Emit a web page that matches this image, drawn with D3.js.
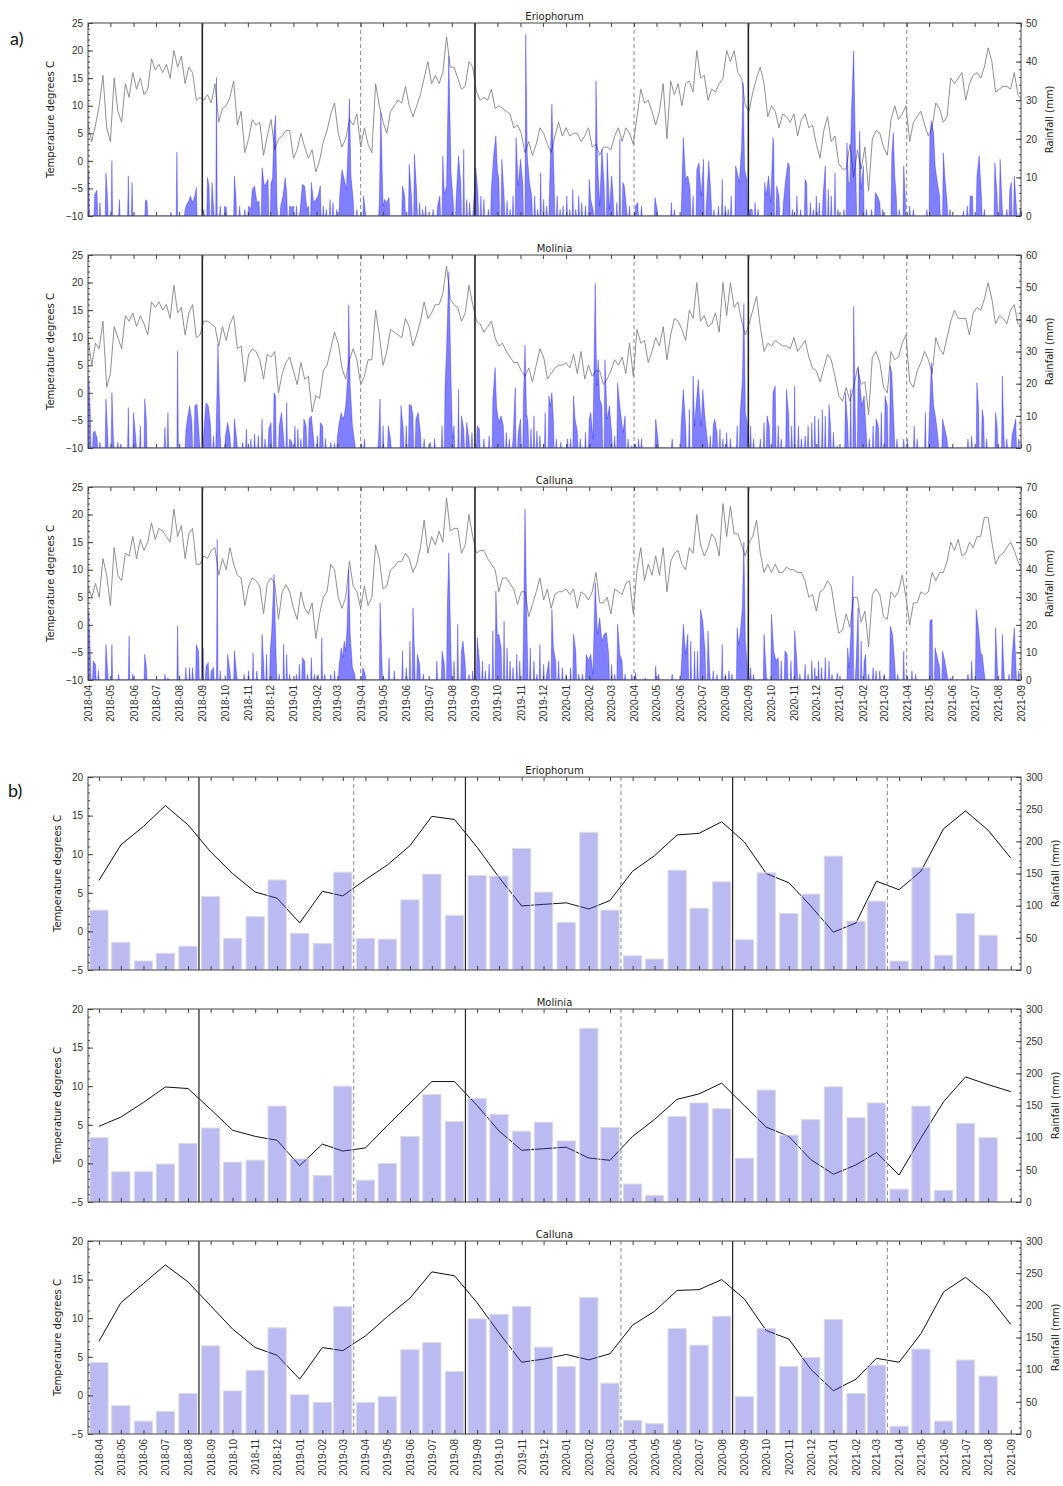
<!DOCTYPE html>
<html>
<head>
<meta charset="utf-8">
<script src="https://cdn.jsdelivr.net/npm/d3@7"></script>
<style>
body { margin: 0; background: #fff; }
</style>
</head>
<body>
<script>
// ---- daily data (panel a) ----
var dailyStart = "2018-04-01", dailyEnd = "2021-09-01", tempStepDays = 5;
var siteNames = ["Eriophorum", "Molinia", "Calluna"];
var rainMaxA = [50, 60, 70];

var eriophorumDailyTemp = [6.7,3.5,6.5,10,15.5,6,3.5,15,9,7,14,11.5,16,13,15,12,13,18.5,16.5,17.5,16,17.5,15,20,17,19,14,17,16,11,11.5,
 11,12,10.5,14,7,9.5,10,11.5,14.5,6.5,9,1.5,4,7.5,6.5,7,1,4.5,7.5,2,4,4.5,5.5,5.5,0.5,2,5,2.5,0.5,2,-2,0,3.5,5.5,8.5,10.5,5,2.5,4,7.5,6.5,8.5,
 2.5,6,3,1.5,14,10,7,5,9,10,11,10.5,13.5,10,8,10,12,15,18,14,15.5,14,16,22.5,17,17,15,13,13.5,18,17,12.5,11,11.5,11,13,9.5,10,9.5,9,
 8.5,6,6.5,5,1.5,3.5,1,3,6,5,3,1.5,4.5,7,4.5,6,4.5,5,5,3.5,4.5,6,2.5,3,1,2.5,2.5,2,4.5,6,3.5,6,5,3,8,13,10.5,11,9,6.5,
 9,14,4,14.5,12,14,10,14,14.5,12.5,20,15,15.5,11,
 13,12.5,14,15,20,18,20,16,15,10,9,12.5,15,17,14,8,10,9,6,8.5,8,7,8.5,4.5,7.5,8.5,6,6.5,3,0.5,5.5,8,3.5,4.5,-0.5,-1.5,-1.5,3,-3,2,
 -1.5,2.5,-5.5,4,5.5,5,2.5,1,7.5,10,7.5,8.5,10,3.5,7,8,9,6.5,4.5,6,10.5,9.5,7,8,15,14,15,16,11,14,15.5,16,15,17,20.5,18,12.5,13,13.5,13.5,13,16,12,11];

var moliniaDailyTemp = [10,5,9,8,13,1,3.5,12,10,8,14,13,14.5,12,14,12.5,10.5,16.5,15.5,16.5,15,16,13.5,19.5,14.5,15.5,10.5,14.5,16,10,
 10.5,13,13,12.5,12,8.5,12,9.5,12.5,14,8,8.5,2,7,8,7.5,6,2.5,7,6.5,7.5,0,3.5,5.5,6.5,4,1.5,5.5,2.5,3,
 -3.5,-0.5,-1,4,5,8,11,9,4.5,2.5,6,8,6,1.5,3,6,6,15,10.5,5,7.5,11.5,11,10.5,10,13.5,12,8.5,10.5,13,
 16.5,13.5,14.5,16,16,18,23,17,16,15.5,13,14.5,19.5,16,13,12.5,11,12,13,10,8.5,9,7.5,6.5,5.5,5.5,4,3,4.5,2,5,
 8,6.5,2.5,3.5,4.5,5,5,5.5,4.5,7,3.5,7.5,2.5,5,3,4,4,1.5,2.5,4,6,5,6.5,3.5,9,3,11.5,9,9.5,5.5,
 7.5,10,8.5,12,6,10.5,13.5,13,11.5,9.5,15,13.5,20,13,14,12,12.5,14.5,11,20,14,20,15.5,16.5,13,10.5,12.5,15,17.5,12,
 7.5,9,8.5,9.5,9,8.5,8.5,8,10,7.5,8.5,9.5,6.5,4.5,4,2,4.5,7,6,3,-0.5,-1.5,1,-1.5,1,4.5,1.5,2,-4,6.5,
 7.5,5.5,1,0,7.5,6,6.5,9,10.5,2,1,4,5.5,7.5,6,3.5,10,8,7,10,13,15,13.5,13.5,13.5,10.5,14.5,15.5,15,17,20,17,12.5,14,13.5,12.5,15,16,12.5,12];

var callunaDailyTemp = [7,5,7.5,5,12,9,3.5,14,9,8,13,12.5,16,12,15.5,13.5,15,18.5,15.5,17.5,17,16,15,21,16,18,12,16.5,17.5,11,
 11,12.5,12,13.5,14,9,12,10,14,11,9,8.5,3.5,7,8.5,8,7,2,7.5,8.5,7.5,1,6,7.3,6,3,1,6,3,2,
 4,-2.5,2,5,6,11,10,5,3,5,11.5,7,6,3,7,3.5,5,14.5,12,6.5,7,10,10.5,11.5,11.5,13,12,9.5,11,14,
 19,13,16,14.5,17,15,23,17,17.5,17.5,13,14.5,20,16,13,13.5,13.5,12,11,10,6,8.5,8.5,7.5,6.5,3.7,6,6,1.5,3.7,6,
 8.5,4.5,6.5,3,5.5,6,6,6.5,5.5,6.5,3,6,5.5,4.5,6,9.5,4,4,5,2,6.5,6,5.5,7.5,8,2,10,14,8,11,
 9,12.5,9,14,6,11.5,13,13.5,11,10,14,13,20,14.5,12.5,14,16.5,15.5,12.5,22,16,21.5,16.5,16.5,14.5,12.5,15,16,19,13,
 9.5,11,9.5,11,9.5,9.5,10.5,10,10,9.5,9.5,8,5,5.5,2.5,6,6.5,8,7,2.5,-1.5,-1,2,-0.5,5,5,0.5,2.5,-4,5.5,
 6.5,5.5,1.5,1,6,5,6,9,5,0,4,4,6,5.5,6,9.5,8,9.5,9.5,11.5,15,13.5,15.5,12.5,13,15,14,16,16,19.5,19.5,15,11,12.5,13,14,15,13.5,11.5,10];

// rain events: [days since dailyStart, mm]
var eriophorumDailyRain = [[1,12],[9,5.6],[12,6.7],[16,3.5],[24,11.2],[26,5.2],[32,14.3],[42,4.3],[54,10.4],[59,8.7],[77,4.2],[79,3.9],[111,1],[119,16.6],
 [130,1.7],[132,3],[135,3.9],[137,5.2],[140,3.5],[143,5.2],[145,7.4],[155,1.7],[160,10],[162,7.8],[166,8.7],[168,2.6],[172,35.9],[177,2.6],[183,2.6],[185,2.2],
 [196,10.4],[198,5.2],[203,2.6],[210,1.7],[215,2.6],[218,1.7],[220,6.9],[223,7.8],[226,3.5],[229,3.9],[233,12.5],[236,7.8],[239,8.7],[241,9.5],[245,8.7],[247,9.5],
 [249,21.6],[251,26],[253,2.6],[258,2.6],[261,5.2],[264,10],[266,6.1],[270,2.6],[273,2.2],[275,2.6],[279,2.6],[284,1.7],[287,8.2],[290,7.8],[293,1.7],[295,2.6],
 [299,8.7],[302,3.5],[305,4.3],[308,5.2],[311,7.8],[315,2.6],[319,1.7],[324,4.3],[328,3.5],[333,1.7],[337,5.2],[340,12],[342,10.4],[344,8.7],[346,6.9],[348,17.3],
 [350,30.3],[352,10.4],[355,4.3],[360,1.7],[369,5.2],[371,1.7],[390,3.5],[392,26.8],[395,2.6],[397,4.3],[400,3.5],[403,4.8],[421,7.8],[424,5.2],[430,13.4],
 [433,5.2],[437,16],[440,6.1],[444,3.5],[448,1.7],[452,2.6],[462,1.7],[468,2.6],[471,5.2],[475,15.6],[477,5.6],[480,7.8],[483,41.5],[486,11.2],[489,3.5],[493,5.2],
 [496,15.6],[499,8.7],[503,17.3],[507,4.3],[511,3.5],[516,2.6],[519,12.5],[522,6.1],[526,5.2],[530,4.3],[536,1.7],[540,6.9],[543,15.6],[546,20.8],[548,12],
 [550,9.5],[554,14.7],[557,5.2],[561,3.9],[565,1.7],[569,5.2],[573,20.3],[576,7.8],[579,14.7],[582,8.7],[586,47.1],[588,15.6],[591,8.7],[594,5.2],[598,5.2],
 [602,1.7],[606,11.2],[610,4.3],[614,2.6],[618,7.8],[621,29],[624,8.7],[628,5.2],[632,1.7],[636,2.6],[641,5.2],[645,1.7],[649,6.9],[653,1.7],[657,5.2],[661,3.5],
 [666,2.6],[671,9.5],[673,4.3],[676,1.7],[680,35],[682,14.7],[685,2.6],[688,17.3],[691,7.8],[695,16.4],[698,1.7],[701,10.4],[703,5.2],[708,3.5],[712,19.9],
 [716,8.7],[718,7.8],[721,1.7],[725,2.6],[733,2.6],[736,3.5],[741,2.6],[759,4.8],[762,1.7],[781,3.5],[785,1.7],[795,6.9],[797,20.3],[800,9.5],[803,10.4],
 [806,6.9],[810,5.2],[815,12],[818,13.8],[821,5.2],[824,14.7],[828,3.5],[831,14.3],[834,5.2],[838,1.7],[844,2.6],[849,9.5],[853,2.6],[857,1.7],[861,5.2],
 [867,13],[870,10.4],[872,8.7],[875,18.2],[877,34.6],[879,12],[882,9.5],[886,1.7],[889,1.7],[893,3.5],[897,1.7],[906,8.7],[908,5.2],[911,10.4],[914,3.5],
 [917,20.3],[918,18.2],[922,7.8],[925,5.2],[931,3.5],[934,9.5],[937,13.8],[939,13],[943,1.7],[949,5.2],[954,1.7],[960,9.5],[962,8.7],[967,3.5],[971,1.7],
 [975,5.2],[979,3.5],[984,5.2],[987,13],[991,6.9],[995,5.2],[1000,11.2],[1004,1.7],[1012,1.7],[1016,19],[1018,8.7],[1020,8.7],[1022,26.8],[1025,42.8],
 [1028,10.4],[1033,22],[1035,6.9],[1038,13],[1042,1.7],[1049,1.7],[1054,6.1],[1057,5.2],[1060,3.5],[1064,1.7],[1076,15.6],[1078,21.6],[1080,10.4],[1082,5.2],
 [1086,1.7],[1092,13],[1094,5.2],[1100,2.6],[1105,1.7],[1123,1.7],[1127,20.8],[1129,24.7],[1132,21.6],[1134,13],[1137,8.7],[1140,5.2],[1145,16.4],[1147,10.4],
 [1150,3.5],[1154,1.7],[1172,1.3],[1177,2.6],[1181,5.2],[1184,5.2],[1190,10.4],[1193,15.6],[1196,5.2],[1200,1.7],[1214,13.8],[1217,5.2],[1221,14.7],[1224,1.7],
 [1230,1.7],[1234,6.9],[1236,8.7],[1240,10.4],[1243,1.7],[1248,1.7]];

var moliniaDailyRain = [[1,22],[3,12],[7,4.8],[9,5.3],[12,3.3],[16,1.8],[24,15.2],[26,5.9],[32,17.2],[34,2.8],[40,1.8],[44,1.3],[54,12.6],[61,11],[64,2.8],
 [70,6.9],[76,15.2],[78,9],[103,6.4],[107,11],[120,30.1],[131,5.3],[133,9],[136,13.1],[139,8.5],[143,13.1],[146,13.6],[149,2.8],[155,4.8],[158,14.1],[161,13.1],
 [164,7.4],[168,3.8],[172,10],[174,32.2],[177,3.8],[184,3.8],[187,7.9],[190,3.8],[196,9],[199,2.8],[207,1.8],[212,5.9],[218,2.8],[223,4.3],[228,3.8],[233,9],
 [237,2.8],[242,5.9],[245,7.9],[249,17.2],[251,16.2],[256,6.9],[259,11],[262,2.8],[266,14.1],[270,2.8],[273,1.8],[277,6.9],[281,5.9],[285,2.8],[289,9],[292,6.9],
 [296,9],[299,10],[302,2.8],[307,3.8],[311,7.9],[314,6.9],[318,2.8],[325,1.8],[330,1.5],[334,3.8],[336,7.4],[339,11],[341,9],[343,10],[345,13.1],[348,23.4],
 [349,44.5],[351,19.3],[354,6.9],[357,1.8],[366,1.3],[370,2.8],[389,2.8],[391,15.2],[395,6.9],[402,6.9],[405,2.8],[419,13.1],[422,5.9],[426,6.9],[430,13.6],
 [433,13.1],[435,10],[439,9],[442,11],[445,4.8],[450,2.8],[458,1.8],[464,2.8],[474,6.9],[478,19.3],[480,30.6],[483,54.8],[486,21.3],[488,2.8],[490,6.9],
 [496,18.2],[500,10],[503,5.9],[507,7.9],[510,2.8],[514,4.8],[521,6.9],[524,5.9],[530,2.8],[537,3.8],[542,15.2],[545,25],[547,12.6],[550,7.9],[553,10],
 [556,6.9],[560,4.8],[564,2.8],[569,2.8],[572,18.8],[576,4.8],[579,9],[583,16.2],[585,32],[587,11],[589,7.9],[593,5.9],[597,10],[601,5.3],[605,3.8],[612,11],
 [617,16.2],[619,13.1],[621,17.2],[623,9],[627,2.8],[633,1.8],[642,2.8],[646,2.8],[650,16.2],[652,9],[655,5.3],[659,2.8],[666,4.8],[671,9],[673,11],[676,2.8],
 [679,51.2],[681,19.3],[683,27.5],[685,15.2],[688,13.1],[692,27.5],[695,9],[698,13.1],[701,4.8],[705,3.8],[709,20.3],[711,15.2],[714,9],[716,4.8],[719,10],
 [723,2.8],[728,0.7],[733,1.3],[737,2.8],[741,2.8],[760,9],[763,2.8],[782,2.8],[794,6.9],[797,18.2],[800,6.9],[805,12],[810,22.4],[812,6.9],[814,13.1],
 [817,21.3],[819,14.1],[821,6.9],[823,18.2],[826,9],[829,2.8],[833,3.8],[837,6.9],[839,9],[842,4.8],[846,5.9],[850,2.8],[855,4.8],[860,2.8],[869,6.9],[873,10],
 [876,21.3],[878,45],[880,11],[883,6.9],[887,6.9],[891,2.8],[900,2.8],[905,7.9],[909,10],[912,6.9],[917,17.2],[920,19.3],[924,6.9],[928,2.8],[935,18.2],
 [938,10],[942,6.9],[946,19.3],[951,6.9],[955,2.8],[960,3.8],[964,6.9],[969,7.9],[973,10],[978,9],[983,12],[987,10],[992,13.6],[994,6.9],[998,4.8],[1003,0.7],
 [1014,17.2],[1017,6.9],[1021,18.2],[1025,44],[1027,13.1],[1031,25.5],[1034,18.2],[1036,13.1],[1039,16.2],[1042,3.8],[1046,2.8],[1051,6.9],[1055,9],[1058,6.9],
 [1062,11],[1067,16.2],[1070,13.1],[1074,25.5],[1076,23.4],[1079,6.9],[1083,2.8],[1092,2.8],[1097,2.8],[1106,6.9],[1110,2.8],[1121,11],[1126,6.9],[1129,26.5],
 [1132,13.1],[1135,9],[1138,2.8],[1144,9],[1147,5.9],[1150,2.8],[1178,2.8],[1183,3.8],[1190,20.3],[1192,13.1],[1197,12],[1199,9],[1203,2.8],[1215,11],[1217,6.9],
 [1224,22.4],[1226,4.8],[1230,2.8],[1237,3.8],[1240,6.9],[1242,9],[1246,2.8]];

var callunaDailyRain = [[1,25],[3,10.5],[7,6.9],[10,5.7],[14,3.3],[24,12.9],[26,4.5],[32,12.9],[41,2.1],[55,16],[60,2.1],[76,9.3],[78,5.1],[103,2.1],[107,0.8],
 [120,19.6],[131,4.5],[136,4.5],[140,4.5],[145,12.9],[148,10.5],[154,11.7],[158,5],[161,6.3],[165,3.3],[168,4.5],[173,51],[177,3.3],[187,9.3],[190,3.3],[196,10.5],
 [199,2.1],[209,2.1],[215,3.3],[221,9.9],[226,3.3],[233,16.6],[235,6.9],[239,9.3],[244,10.5],[246,17.8],[249,38.3],[252,6.9],[256,2.1],[262,12.9],[266,9.3],
 [270,2.1],[279,2.1],[283,5.7],[287,8.1],[290,6.9],[294,2.1],[299,8.1],[303,2.1],[308,2.1],[313,15.4],[317,2.1],[325,2.1],[330,3.3],[336,4.5],[339,11.7],
 [341,8.1],[343,14.1],[345,10.5],[347,20],[349,40.1],[351,16.6],[354,4.5],[357,2.1],[368,4.5],[371,2.1],[391,28],[394,2.1],[403,8.1],[410,3.3],[421,10.5],
 [426,4.5],[431,14.1],[435,26.2],[437,10.5],[441,9.3],[444,5.7],[449,2.1],[467,6.9],[474,10.5],[477,5.7],[481,26.2],[483,46.2],[486,9.3],[490,6.9],[495,20.2],
 [500,10.5],[502,14.1],[505,5.7],[510,2.1],[515,3.3],[521,15.4],[524,6.9],[528,6.9],[532,3.3],[537,5.7],[542,17.8],[546,32.3],[548,16],[550,16.6],[553,11.7],
 [557,21.4],[561,11.7],[565,6.9],[569,4.5],[574,9.3],[578,6.9],[583,17.8],[585,62],[588,14.1],[592,11.7],[597,6.9],[601,2.1],[605,12.9],[610,5.7],[614,2.1],
 [617,6.9],[621,25.6],[623,11.7],[626,6.9],[630,6.9],[635,4.5],[640,2.1],[646,4.5],[650,16.6],[653,10.5],[657,2.1],[662,2.1],[667,9.3],[670,6.9],[673,9.3],
 [676,2.1],[679,35.3],[682,16.6],[685,22.6],[688,14.1],[691,16.6],[694,17.2],[697,9.3],[701,5.7],[705,2.1],[709,20.2],[712,9.3],[715,6.9],[719,2.1],[728,2.1],
 [733,2.7],[746,0.8],[760,5.1],[764,2.1],[782,2.1],[794,3.3],[797,20.2],[800,9.3],[803,16.6],[807,14.1],[812,10.5],[816,10.5],[820,25.6],[823,21.4],[826,10.5],
 [830,17.8],[832,4.5],[837,3.3],[842,2.1],[849,12.9],[853,2.1],[858,3.3],[862,2.1],[869,19],[871,12.9],[873,16.6],[876,26.2],[878,50],[880,14.1],[883,3.3],
 [887,4.5],[891,2.1],[905,16.6],[908,2.1],[915,23.8],[918,10.5],[921,6.9],[924,8.1],[928,6.9],[933,10.5],[936,9.3],[941,6.9],[946,17.8],[949,6.9],[953,2.1],
 [960,5.7],[964,2.1],[969,6.9],[973,4.5],[978,6.9],[982,4.5],[987,8.1],[992,6.9],[996,2.1],[1003,2.7],[1017,11.7],[1019,4.5],[1022,20.8],[1024,37.7],[1028,4.5],
 [1031,26.2],[1035,14.1],[1039,6.9],[1041,9.3],[1045,2.1],[1051,4.5],[1055,3.3],[1060,3.3],[1066,2.1],[1074,19.6],[1077,16.6],[1080,5.7],[1084,2.1],[1092,10.5],
 [1096,2.1],[1103,3.3],[1108,2.1],[1127,21.4],[1130,22],[1134,11.7],[1137,8.1],[1140,4.5],[1144,10.5],[1147,6.9],[1150,2.1],[1155,0.8],[1178,2.1],[1183,6.9],
 [1189,25.6],[1192,19],[1195,9.3],[1197,9.3],[1200,2.1],[1215,19],[1217,6.9],[1224,16.6],[1226,4.5],[1233,2.1],[1237,8.1],[1240,19],[1242,6.9],[1246,3.3]];

// ---- monthly data (panel b), first month 2018-04 ----
var monthStart = "2018-04-01";
var eriophorumMonthTemp = [6.6,11.2,13.6,16.3,13.8,10.3,7.5,5.1,4.3,1.1,5.2,4.6,6.7,8.6,11.1,14.9,14.5,10.9,7.0,3.3,3.5,3.7,2.9,4.0,7.8,9.8,12.5,12.7,14.2,11.6,7.5,6.3,3.3,-0.1,1.1,6.5,5.4,7.8,13.3,15.6,13.1,9.5];
var eriophorumMonthRain = [93,43,14,26,37,114,49,83,140,57,41,152,49,48,109,149,85,147,146,189,121,74,214,93,22,17,155,96,137,47,151,88,118,177,76,107,14,159,23,88,54];
var moliniaMonthTemp = [4.8,6.0,7.9,9.9,9.7,7.0,4.3,3.5,3.0,-0.3,2.5,1.6,2.0,4.9,7.8,10.6,10.6,7.5,4.2,1.7,1.9,2.1,0.7,0.4,3.5,5.7,8.3,9.0,10.4,7.5,4.7,3.5,0.5,-1.4,-0.2,1.4,-1.5,3.3,8.0,11.2,10.2,9.3];
var moliniaMonthRain = [100,47,47,59,91,115,62,65,149,67,41,180,34,60,102,167,125,161,136,110,124,95,270,116,28,10,133,154,145,68,174,104,128,179,131,154,20,149,18,122,100];
var callunaMonthTemp = [7.0,12.0,14.5,16.9,14.7,11.6,8.6,6.2,5.2,2.1,6.2,5.8,7.7,10.2,12.6,16.0,15.5,12.0,8.1,4.3,4.7,5.3,4.6,5.4,9.1,10.9,13.6,13.7,15.0,12.5,8.4,7.3,3.4,0.6,2.1,4.8,4.3,8.0,13.4,15.3,12.9,9.2];
var callunaMonthRain = [111,44,20,35,63,137,67,99,165,61,49,198,49,58,131,142,97,179,186,198,135,105,212,79,21,16,164,138,183,58,164,105,119,178,63,107,12,132,20,115,90];

// season boundaries
var solidLinesA = ["2018-09-01","2019-09-01","2020-09-01"];
var dashedLinesA = ["2019-04-01","2020-04-01","2021-04-01"];
var solidLinesB = ["2018-08-16","2019-08-16","2020-08-16"];
var dashedLinesB = ["2019-03-16","2020-03-16","2021-03-16"];

var parse = d3.utcParse("%Y-%m-%d");
var svg = d3.select("body").append("svg")
            .attr("width", 1063)
            .attr("height", 1486)
            .style("font-family", "'DejaVu Sans', sans-serif");

var L = 88, R = 1021, PH = 193;
var topsA = [23, 255, 487], topsB = [777, 1009, 1241];

var t0 = parse(dailyStart), t1 = parse(dailyEnd);
var xA = d3.scaleUtc().domain([t0, t1]).range([L, R]);
var xB = d3.scaleUtc().domain([parse("2018-03-17"), parse("2021-09-15")]).range([L, R]);
var monthTicks = d3.utcMonth.range(t0, d3.utcDay.offset(t1, 1));

function styleAxis(sel) {
    sel.select(".domain").remove();
    sel.selectAll(".tick line").attr("stroke", "#444");
    sel.selectAll(".tick text").attr("fill", "#333").style("font-size", "10px");
}

function drawFrame(g, top, x, yT, yR, tempTicks, rainTicks, rainMinor, title, lx, rx, showDates) {
    var bottom = top + PH;
    var td = yT.domain();
    // minor ticks
    g.append("g").attr("transform", "translate(" + L + ",0)")
        .call(d3.axisLeft(yT).tickValues(d3.range(td[0], td[1] + 0.1, 1)).tickSize(-2).tickFormat(""))
        .call(styleAxis);
    g.append("g").attr("transform", "translate(" + R + ",0)")
        .call(d3.axisRight(yR).tickValues(d3.range(0, yR.domain()[1] + 0.1, rainMinor)).tickSize(-2).tickFormat(""))
        .call(styleAxis);
    // major ticks
    g.append("g").attr("transform", "translate(" + L + ",0)")
        .call(d3.axisLeft(yT).tickValues(tempTicks).tickSize(-5).tickPadding(5))
        .call(styleAxis);
    g.append("g").attr("transform", "translate(" + R + ",0)")
        .call(d3.axisRight(yR).tickValues(rainTicks).tickSize(-5).tickPadding(5))
        .call(styleAxis);
    g.append("g").attr("transform", "translate(0," + top + ")")
        .call(d3.axisTop(x).tickValues(monthTicks).tickSize(-4).tickFormat(""))
        .call(styleAxis);
    var xb = g.append("g").attr("transform", "translate(0," + bottom + ")")
        .call(d3.axisBottom(x).tickValues(monthTicks).tickSize(-4)
              .tickFormat(showDates ? d3.utcFormat("%Y-%m") : ""))
        .call(styleAxis);
    if (showDates) {
        xb.selectAll(".tick text")
            .attr("transform", "rotate(-90)")
            .attr("x", -5).attr("y", 0).attr("dy", "0.35em")
            .style("text-anchor", "end");
    }
    g.append("rect").attr("x", L).attr("y", top).attr("width", R - L).attr("height", PH)
        .attr("fill", "none").attr("stroke", "#444").attr("stroke-width", 1);

    g.append("text").attr("x", (L + R) / 2).attr("y", top - 3)
        .attr("text-anchor", "middle").style("font-size", "10px").attr("fill", "#222")
        .text(title);
    g.append("text").attr("transform", "translate(" + lx + "," + (top + PH / 2) + ")rotate(-90)")
        .attr("text-anchor", "middle").attr("dy", "0.35em").style("font-size", "10px").attr("fill", "#222")
        .text("Temperature degrees C");
    g.append("text").attr("transform", "translate(" + rx + "," + (top + PH / 2) + ")rotate(-90)")
        .attr("text-anchor", "middle").attr("dy", "0.35em").style("font-size", "10px").attr("fill", "#222")
        .text("Rainfall (mm)");
}

function seasonLines(plot, x, top, solid, dashed, solidWidth) {
    plot.selectAll(null).data(solid).enter().append("line")
        .attr("x1", function(d) { return x(parse(d)); })
        .attr("x2", function(d) { return x(parse(d)); })
        .attr("y1", top).attr("y2", top + PH)
        .attr("stroke", "#222").attr("stroke-width", solidWidth);
    plot.selectAll(null).data(dashed).enter().append("line")
        .attr("x1", function(d) { return x(parse(d)); })
        .attr("x2", function(d) { return x(parse(d)); })
        .attr("y1", top).attr("y2", top + PH)
        .attr("stroke", "#888").attr("stroke-width", 1).attr("stroke-dasharray", "4,3");
}

// rain outline: wet spells joined, dry days between separate spells set to 0
function rainPoints(events) {
    var pts = [];
    events.forEach(function(e, j) {
        var prev = events[j - 1], next = events[j + 1];
        if (!prev || e[0] - prev[0] > 3) pts.push([e[0] - 1, 0]);
        pts.push(e);
        if (!next || next[0] - e[0] > 3) pts.push([e[0] + 1, 0]);
    });
    return pts;
}

// Panel a: daily temperature and rainfall
function drawDaily(i, temps, rain) {
    var top = topsA[i], bottom = top + PH;
    var yT = d3.scaleLinear().domain([-10, 25]).range([bottom, top]);
    var yR = d3.scaleLinear().domain([0, rainMaxA[i]]).range([bottom, top]);
    var g = svg.append("g");

    g.append("clipPath").attr("id", "clipA" + i)
        .append("rect").attr("x", L).attr("y", top).attr("width", R - L).attr("height", PH);
    var plot = g.append("g").attr("clip-path", "url(#clipA" + i + ")");

    var tempLine = d3.line()
        .x(function(d, k) { return xA(d3.utcDay.offset(t0, k * tempStepDays)); })
        .y(function(d) { return yT(d); });
    plot.append("path").datum(temps).attr("d", tempLine)
        .attr("fill", "none").attr("stroke", "#858585").attr("stroke-width", 0.9);

    var rainArea = d3.area()
        .x(function(d) { return xA(d3.utcDay.offset(t0, d[0])); })
        .y0(yR(0))
        .y1(function(d) { return yR(d[1]); });
    plot.append("path").datum(rainPoints(rain)).attr("d", rainArea)
        .attr("fill", "blue").attr("fill-opacity", 0.5)
        .attr("stroke", "blue").attr("stroke-opacity", 0.5).attr("stroke-width", 0.6);

    seasonLines(plot, xA, top, solidLinesA, dashedLinesA, 1.6);

    var rt = d3.range(0, rainMaxA[i] + 0.1, 10);
    drawFrame(g, top, xA, yT, yR, d3.range(-10, 26, 5), rt, 2, siteNames[i], 50, 1049, i === 2);
}

// Panel b: monthly temperature and rainfall
function drawMonthly(i, temps, rain) {
    var top = topsB[i], bottom = top + PH;
    var yT = d3.scaleLinear().domain([-5, 20]).range([bottom, top]);
    var yR = d3.scaleLinear().domain([0, 300]).range([bottom, top]);
    var m0 = parse(monthStart);
    var g = svg.append("g");

    g.append("clipPath").attr("id", "clipB" + i)
        .append("rect").attr("x", L).attr("y", top).attr("width", R - L).attr("height", PH);
    var plot = g.append("g").attr("clip-path", "url(#clipB" + i + ")");

    var line = d3.line()
        .x(function(d, k) { return xB(d3.utcMonth.offset(m0, k)); })
        .y(function(d) { return yT(d); });
    plot.append("path").datum(temps).attr("d", line)
        .attr("fill", "none").attr("stroke", "#111").attr("stroke-width", 1);

    var bw = xB(d3.utcDay.offset(m0, 25)) - xB(m0);
    plot.selectAll("rect.bar").data(rain).enter().append("rect")
        .attr("class", "bar")
        .attr("x", function(d, k) { return xB(d3.utcMonth.offset(m0, k)) - bw / 2; })
        .attr("y", function(d) { return yR(d); })
        .attr("width", bw)
        .attr("height", function(d) { return yR(0) - yR(d); })
        .attr("fill", "rgb(70,70,220)").attr("fill-opacity", 0.37)
        .attr("stroke", "#dcdcdc").attr("stroke-width", 1);

    seasonLines(plot, xB, top, solidLinesB, dashedLinesB, 1.2);

    drawFrame(g, top, xB, yT, yR, d3.range(-5, 21, 5), d3.range(0, 301, 50), 10, siteNames[i], 57, 1055, i === 2);
}

drawDaily(0, eriophorumDailyTemp, eriophorumDailyRain);
drawDaily(1, moliniaDailyTemp, moliniaDailyRain);
drawDaily(2, callunaDailyTemp, callunaDailyRain);
drawMonthly(0, eriophorumMonthTemp, eriophorumMonthRain);
drawMonthly(1, moliniaMonthTemp, moliniaMonthRain);
drawMonthly(2, callunaMonthTemp, callunaMonthRain);

// panel letters
svg.append("text").attr("x", 10).attr("y", 45).style("font-family", "Lato, 'Open Sans', sans-serif")
    .style("font-size", "18px").attr("fill", "#111").text("a)");
svg.append("text").attr("x", 8).attr("y", 797).style("font-family", "Lato, 'Open Sans', sans-serif")
    .style("font-size", "18px").attr("fill", "#111").text("b)");
</script>
</body>
</html>
